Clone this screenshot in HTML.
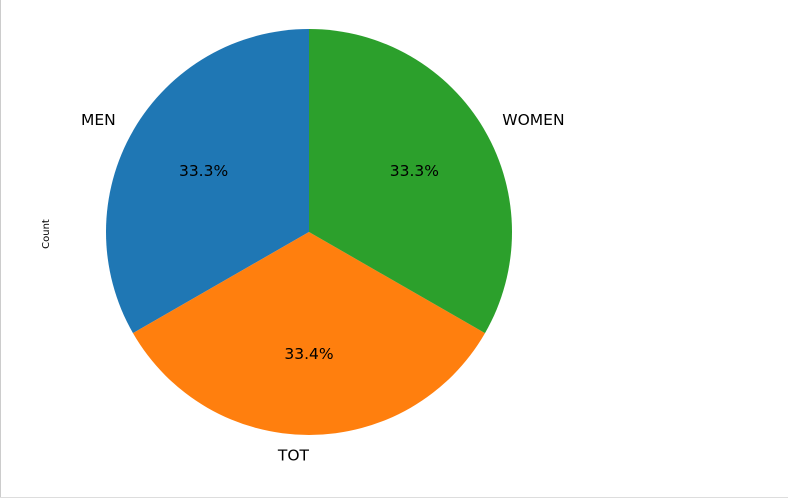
<!DOCTYPE html>
<html><head><meta charset="utf-8"><style>
html,body{margin:0;padding:0;background:#fff;}
svg{display:block;font-family:"DejaVu Sans","Liberation Sans",sans-serif;}
</style></head><body>
<svg id="chart" width="788" height="503" viewBox="0 0 788 503" xmlns="http://www.w3.org/2000/svg">
<line x1="0.5" y1="0" x2="0.5" y2="498" stroke="#cccccc"/>
<line x1="0" y1="497.5" x2="788" y2="497.5" stroke="#dddddd"/>
<text x="49" y="234" font-size="10" text-anchor="middle" transform="rotate(-90 49 234)">Count</text>
<g id="slices"></g>
</svg>
<script>
const categories = ["MEN", "TOT", "WOMEN"];
const values = [333, 334, 333];
const colors = ["#1f77b4", "#ff7f0e", "#2ca02c"];
const cx = 309, cy = 232, r = 203;
const g = document.getElementById('slices');
const ns = 'http://www.w3.org/2000/svg';
const total = values.reduce((a, b) => a + b, 0);
let ang = 90;
function pt(a, rr) { const t = a * Math.PI / 180; return [cx + rr * Math.cos(t), cy - rr * Math.sin(t)]; }
values.forEach((v, i) => {
  const sweep = v / total * 360;
  const a0 = ang, a1 = ang + sweep;
  const p0 = pt(a0, r), p1 = pt(a1, r);
  const large = sweep > 180 ? 1 : 0;
  const path = document.createElementNS(ns, 'path');
  path.setAttribute('d', `M${cx},${cy} L${p0[0]},${p0[1]} A${r},${r} 0 ${large} 0 ${p1[0]},${p1[1]} Z`);
  path.setAttribute('fill', colors[i]);
  
  
  g.appendChild(path);
  const mid = (a0 + a1) / 2;
  const lp = pt(mid, r * 1.1);
  const cosm = Math.cos(mid * Math.PI / 180);
  const lab = document.createElementNS(ns, 'text');
  lab.setAttribute('x', lp[0]);
  lab.setAttribute('y', lp[1] + 5);
  lab.setAttribute('font-size', '15.5');
  lab.setAttribute('text-anchor', cosm < 0 ? 'end' : 'start');
  lab.textContent = categories[i];
  
  
  g.appendChild(lab);
  const pp = pt(mid, r * 0.6);
  const pct = document.createElementNS(ns, 'text');
  pct.setAttribute('x', pp[0]);
  pct.setAttribute('y', pp[1] + 5);
  pct.setAttribute('font-size', '15.5');
  pct.setAttribute('text-anchor', 'middle');
  pct.textContent = (v / total * 100).toFixed(1) + '%';
  
  
  g.appendChild(pct);
  ang = a1;
});
</script>
</body></html>
